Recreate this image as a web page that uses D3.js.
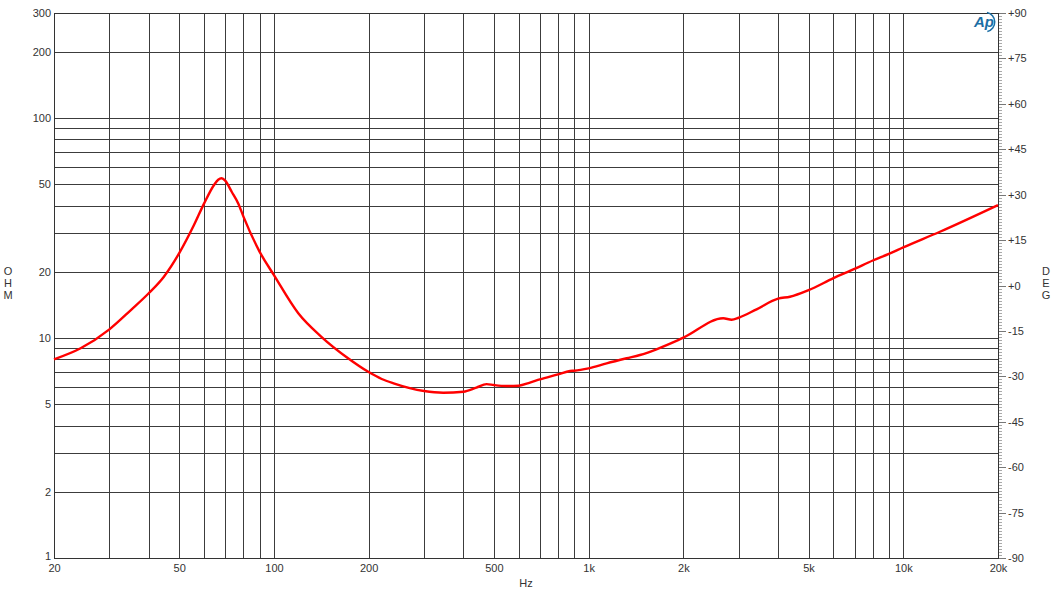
<!DOCTYPE html>
<html>
<head>
<meta charset="utf-8">
<script src="https://cdn.jsdelivr.net/npm/d3@7"></script>
<style>
  html, body { margin: 0; padding: 0; background: #fff; }
  svg { display: block; }
  text { font-family: "Liberation Sans", Arial, sans-serif; fill: #333; }
</style>
</head>
<body>
<svg id="chart" width="1052" height="600"></svg>
<script>
// ---- data ----
const freqHz = [20, 24.3, 30, 35.1, 40, 44.7, 50, 55.7, 60, 64.5, 66.5, 68.2, 70, 73.4, 77, 80, 90, 100,
  119.5, 141.8, 172, 200, 220, 240, 300, 345, 400, 440, 474, 500, 549, 600, 651, 700, 800, 873, 900, 1000,
  1141, 1321, 1456, 2000, 2678, 2848, 3000, 3418, 4000, 4364, 5000, 6000, 7000, 8000, 9000, 10000, 13075, 20000];
const impedanceOhm = [8.0, 8.98, 10.95, 13.4, 15.97, 19.0, 24.3, 32.6, 40.9, 49.6, 52.4, 53.2, 51.9, 46.2, 40.9, 35.6, 24.7, 19.3,
  12.95, 10.1, 8.09, 7.0, 6.51, 6.22, 5.74, 5.64, 5.70, 5.95, 6.17, 6.11, 6.05, 6.07, 6.27, 6.48, 6.83, 7.08, 7.1, 7.28,
  7.67, 8.09, 8.37, 10.03, 12.29, 12.1, 12.36, 13.5, 15.1, 15.4, 16.5, 18.7, 20.6, 22.5, 24.1, 25.8, 30.4, 40.2];

const xGrid = [20,30,40,50,60,70,80,90,100,200,300,400,500,600,700,800,900,1000,2000,3000,4000,5000,6000,7000,8000,9000,10000,20000];
const xTickValues = [20, 50, 100, 200, 500, 1000, 2000, 5000, 10000, 20000];
const xTickLabels = ["20", "50", "100", "200", "500", "1k", "2k", "5k", "10k", "20k"];
const yGrid = [1,2,3,4,5,6,7,8,9,10,20,30,40,50,60,70,80,90,100,200,300];
const yTickValues = [1, 2, 5, 10, 20, 50, 100, 200, 300];
const degTickValues = [-90, -75, -60, -45, -30, -15, 0, 15, 30, 45, 60, 75, 90];
const degTickLabels = ["-90", "-75", "-60", "-45", "-30", "-15", "+0", "+15", "+30", "+45", "+60", "+75", "+90"];

// ---- layout ----
const L = 54, R = 998, T = 13, B = 558;
const svg = d3.select("#chart");

const x = d3.scaleLog().domain([20, 20000]).range([L, R]);
const y = d3.scaleLog().domain([1, 300]).range([B, T]);
const yDeg = d3.scaleLinear().domain([-90, 90]).range([B, T]);
const px = v => Math.round(v) + 0.5;

// grid
const grid = svg.append("g").attr("stroke", "#3c3c3c").attr("stroke-width", 1).attr("shape-rendering", "crispEdges");
grid.selectAll("line.v").data(xGrid).enter().append("line")
  .attr("x1", d => px(x(d))).attr("x2", d => px(x(d))).attr("y1", T).attr("y2", B);
grid.selectAll("line.h").data(yGrid).enter().append("line")
  .attr("y1", d => px(y(d))).attr("y2", d => px(y(d))).attr("x1", L).attr("x2", R);

// left axis labels
const leftAxis = d3.axisLeft(y).tickValues(yTickValues).tickFormat(d3.format("d")).tickSize(0).tickPadding(3);
const gl = svg.append("g").attr("transform", `translate(${L},0)`).call(leftAxis);
gl.select(".domain").remove();
gl.selectAll("text").style("font-size", "11px").attr("fill", "#333").attr("font-family", "Liberation Sans, Arial, sans-serif");
gl.selectAll(".tick").filter(d => d === 1).select("text").attr("dy", "0.1em");

// bottom axis labels
const bottomAxis = d3.axisBottom(x).tickValues(xTickValues).tickFormat((d, i) => xTickLabels[i]).tickSize(0).tickPadding(6);
const gb = svg.append("g").attr("transform", `translate(0,${B})`).call(bottomAxis);
gb.select(".domain").remove();
gb.selectAll("text").style("font-size", "11px").attr("fill", "#333").attr("font-family", "Liberation Sans, Arial, sans-serif");

// right axis (degrees) with minor ticks
const minorDeg = d3.range(-90, 91, 1);
const gr = svg.append("g").attr("shape-rendering", "crispEdges");
gr.selectAll("line.minor").data(minorDeg).enter().append("line")
  .attr("x1", R).attr("x2", d => R + (d % 15 === 0 ? 8 : 4))
  .attr("y1", d => px(yDeg(d))).attr("y2", d => px(yDeg(d)))
  .attr("stroke", d => d % 15 === 0 ? "#777" : "#aaa").attr("stroke-width", 1);
const rightAxis = d3.axisRight(yDeg).tickValues(degTickValues).tickFormat((d, i) => degTickLabels[i]).tickSize(0).tickPadding(10);
const grA = svg.append("g").attr("transform", `translate(${R},0)`).call(rightAxis);
grA.select(".domain").remove();
grA.selectAll("text").style("font-size", "11px").attr("fill", "#333").attr("font-family", "Liberation Sans, Arial, sans-serif");

// plot border
svg.append("rect").attr("x", L + 0.5).attr("y", T + 0.5).attr("width", R - L).attr("height", B - T)
  .attr("fill", "none").attr("stroke", "#333").attr("stroke-width", 1).attr("shape-rendering", "crispEdges");

// curve
const pts = freqHz.map((f, i) => [f, impedanceOhm[i]]);
const line = d3.line().x(d => x(d[0])).y(d => y(d[1])).curve(d3.curveMonotoneX);
svg.append("path").datum(pts).attr("d", line)
  .attr("fill", "none").attr("stroke", "#f00").attr("stroke-width", 2.4).attr("stroke-linejoin", "round");

// axis titles
const ohm = svg.append("text").attr("x", 8).attr("y", 275).attr("text-anchor", "middle").style("font-size", "11px");
["O", "H", "M"].forEach((c, i) => ohm.append("tspan").attr("x", 8).attr("dy", i === 0 ? 0 : 12).text(c));
const deg = svg.append("text").attr("x", 1046).attr("y", 275).attr("text-anchor", "middle").style("font-size", "11px");
["D", "E", "G"].forEach((c, i) => deg.append("tspan").attr("x", 1046).attr("dy", i === 0 ? 0 : 12).text(c));
svg.append("text").attr("x", 526).attr("y", 587).attr("text-anchor", "middle").style("font-size", "11px").text("Hz");

// AP logo
const logo = svg.append("g").attr("transform", "translate(985,22)");
logo.append("path").attr("d", d3.arc()({innerRadius: 9, outerRadius: 10.5, startAngle: 0.2, endAngle: 2.9}))
  .attr("fill", "#1c6ea4");
logo.append("text").attr("x", -1).attr("y", 5).attr("text-anchor", "middle")
  .style("font-size", "15px").style("font-style", "italic").style("font-weight", "bold")
  .attr("fill", "#1c6ea4").style("fill", "#1c6ea4").text("Ap");
</script>
</body>
</html>
